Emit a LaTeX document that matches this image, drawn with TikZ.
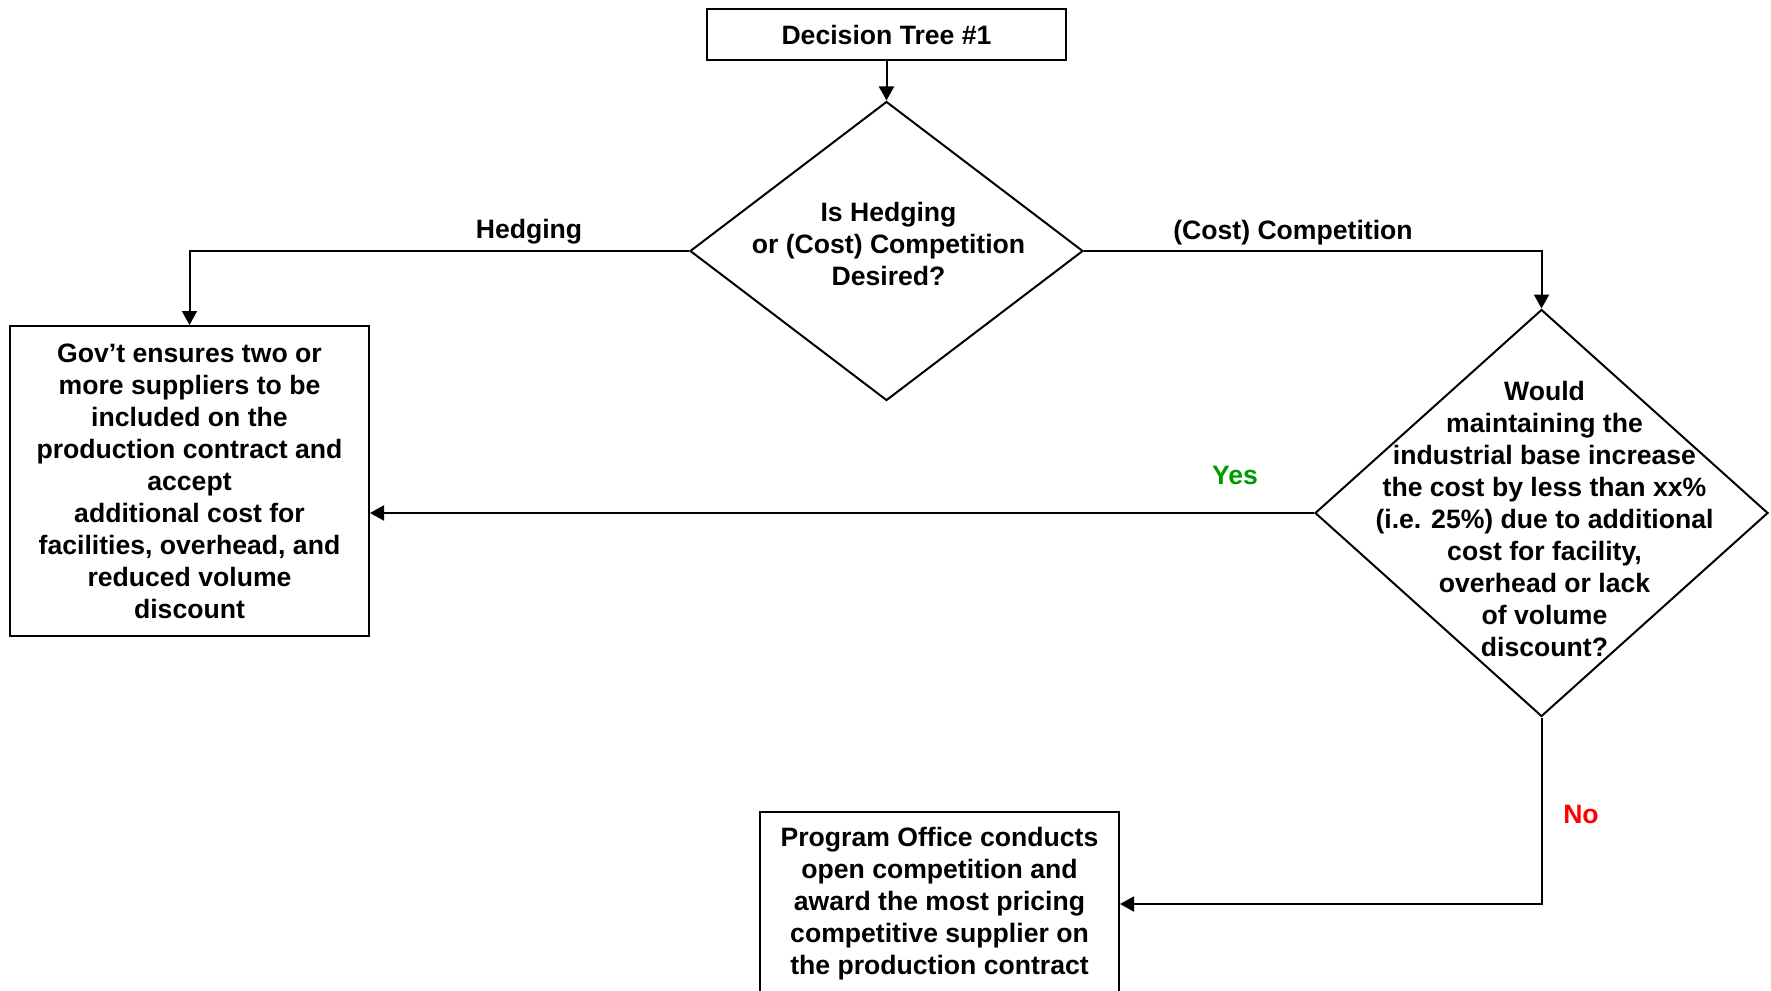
\documentclass[tikz,border=0pt]{standalone}
\usepackage{fontspec}
\setmainfont{Liberation Sans}
\usetikzlibrary{shapes.geometric}
\usetikzlibrary{arrows.meta}
\usetikzlibrary{positioning}
\definecolor{yesgreen}{rgb}{0,0.6,0}
\definecolor{nored}{rgb}{1,0,0}
\tikzset{
	box/.style={draw, line width=1pt, align=center, minimum width=179.5pt, inner sep=0pt},
	decision/.style={draw, diamond, line width=1pt, inner sep=0pt},
	link/.style={line width=1pt, -{Triangle[length=7pt,width=7.5pt]}},
	txt/.style={font=\fontsize{13.3}{16}\selectfont\bfseries},
}

\begin{document}
\begin{tikzpicture}[x=0.5pt, y=-0.5pt, txt]
				
				\useasboundingbox (0,0) rectangle (1771,990);
				
				\node[box, minimum height=25.5pt] (title) at (886.5,34.5) {Decision Tree \#1};
				
				\node[decision, minimum width=196.5pt, minimum height=149.5pt,
					label={[align=center, xshift=1pt, yshift=3.5pt]center:Is Hedging\\or (Cost) Competition\\Desired?}] (q1) at (886.5,251) {};
				
				\node[decision, minimum width=226.5pt, minimum height=203.5pt,
					label={[align=center, xshift=1.5pt, yshift=-3pt]center:Would\\maintaining the\\industrial base increase\\the cost by less than xx\%\\(i.e. 25\%) due to additional\\cost for facility,\\overhead or lack\\of volume\\discount?}] (q2) at (1541.5,513) {};
				
				\node[box, minimum height=155pt] (gov) at (189.5,481) {Gov’t ensures two or\\more suppliers to be\\included on the\\production contract and\\accept\\additional cost for\\facilities, overhead, and\\reduced volume\\discount};
				
				\node[box, minimum height=92pt] (office) at (939.5,904) {Program Office conducts\\open competition and\\award the most pricing\\competitive supplier on\\the production contract};
				
				\draw[link] (title.south) -- (q1.north);
				\draw[link] (q1.west) -| (gov.north);
				\draw[link] (q1.east) -| (q2.north);
				\draw[link] (q2.west) -- (q2.west -| gov.east);
				\draw[link] (q2.south) |- (office.east);
				
				\node (hedging) at (529,232) {Hedging};
				\node (competition) at (1293,233) {(Cost) Competition};
				\node[text=yesgreen] (yes) at (1235,475) {Yes};
				\node[text=nored] (no) at (1581,814) {No};
				\end{tikzpicture}
\end{document}
